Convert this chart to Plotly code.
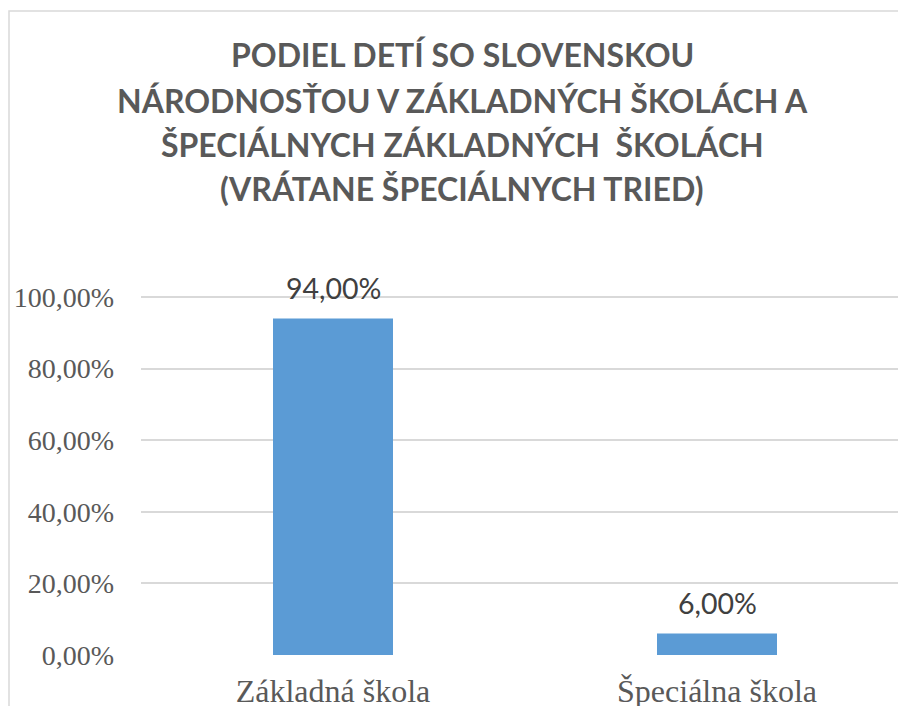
import plotly.graph_objects as go

categories = ["Základná škola", "Špeciálna škola"]
values = [0.94, 0.06]
value_labels = ["94,00%", "6,00%"]
tick_vals = [0, 0.2, 0.4, 0.6, 0.8, 1.0]
tick_text = ["0,00%", "20,00%", "40,00%", "60,00%", "80,00%", "100,00%"]
title_lines = [
    "PODIEL DETÍ SO SLOVENSKOU",
    "NÁRODNOSŤOU V ZÁKLADNÝCH ŠKOLÁCH A",
    "ŠPECIÁLNYCH ZÁKLADNÝCH  ŠKOLÁCH",
    "(VRÁTANE ŠPECIÁLNYCH TRIED)",
]

W, H = 898, 706
L, R, T, B = 141, 0, 296, 51
pw = W - L - R
ph = H - T - B

fig = go.Figure()
fig.add_trace(go.Bar(
    x=[0, 1], y=values, width=0.3125,
    marker=dict(color="#5b9bd5", line=dict(width=0)),
    cliponaxis=False,
))

for i, (v, lab) in enumerate(zip(values, value_labels)):
    fig.add_annotation(x=i, y=v, text=lab, showarrow=False, xanchor="center", yanchor="bottom",
                       yshift=12, font=dict(family="Lato", size=28.5, color="#404040"))

def px2x(p):
    return (p - L) / pw

def py2y(p):
    return (H - B - p) / ph

fig.add_shape(type="rect", xref="paper", yref="paper",
              x0=px2x(9), x1=px2x(915), y0=py2y(720), y1=py2y(11),
              line=dict(color="#d9d9d9", width=1.5), fillcolor="rgba(0,0,0,0)", layer="below")

title_y = [55, 100, 145, 188]
for t, yy in zip(title_lines, title_y):
    fig.add_annotation(text="<b>" + t + "</b>", xref="paper", yref="paper",
                       x=px2x(462), y=py2y(yy), showarrow=False,
                       xanchor="center", yanchor="middle",
                       font=dict(family="Lato", size=32, color="#595959"))

fig.update_layout(
    width=W, height=H,
    margin=dict(l=L, r=R, t=T, b=B, pad=0, autoexpand=False),
    paper_bgcolor="white", plot_bgcolor="white",
    showlegend=False,
    xaxis=dict(range=[-0.5, 1.5 - 11 / 384], tickmode="array", tickvals=[0, 1], ticktext=categories,
               showgrid=False, zeroline=False, showline=False, ticks="", automargin=False,
               ticklabelstandoff=14,
               tickfont=dict(family="Liberation Serif", size=32, color="#595959")),
    yaxis=dict(range=[0, 1.003], tickmode="array", tickvals=tick_vals, ticktext=tick_text,
               showgrid=True, gridcolor="#d9d9d9", gridwidth=1.5, zeroline=False, showline=False, ticks="",
               automargin=False, ticklabelstandoff=26,
               tickfont=dict(family="Liberation Serif", size=28, color="#595959")),
)

fig.write_html("out.html", config={"displayModeBar": False},
               post_script="document.body.style.margin='0';document.body.style.overflow='hidden';")
